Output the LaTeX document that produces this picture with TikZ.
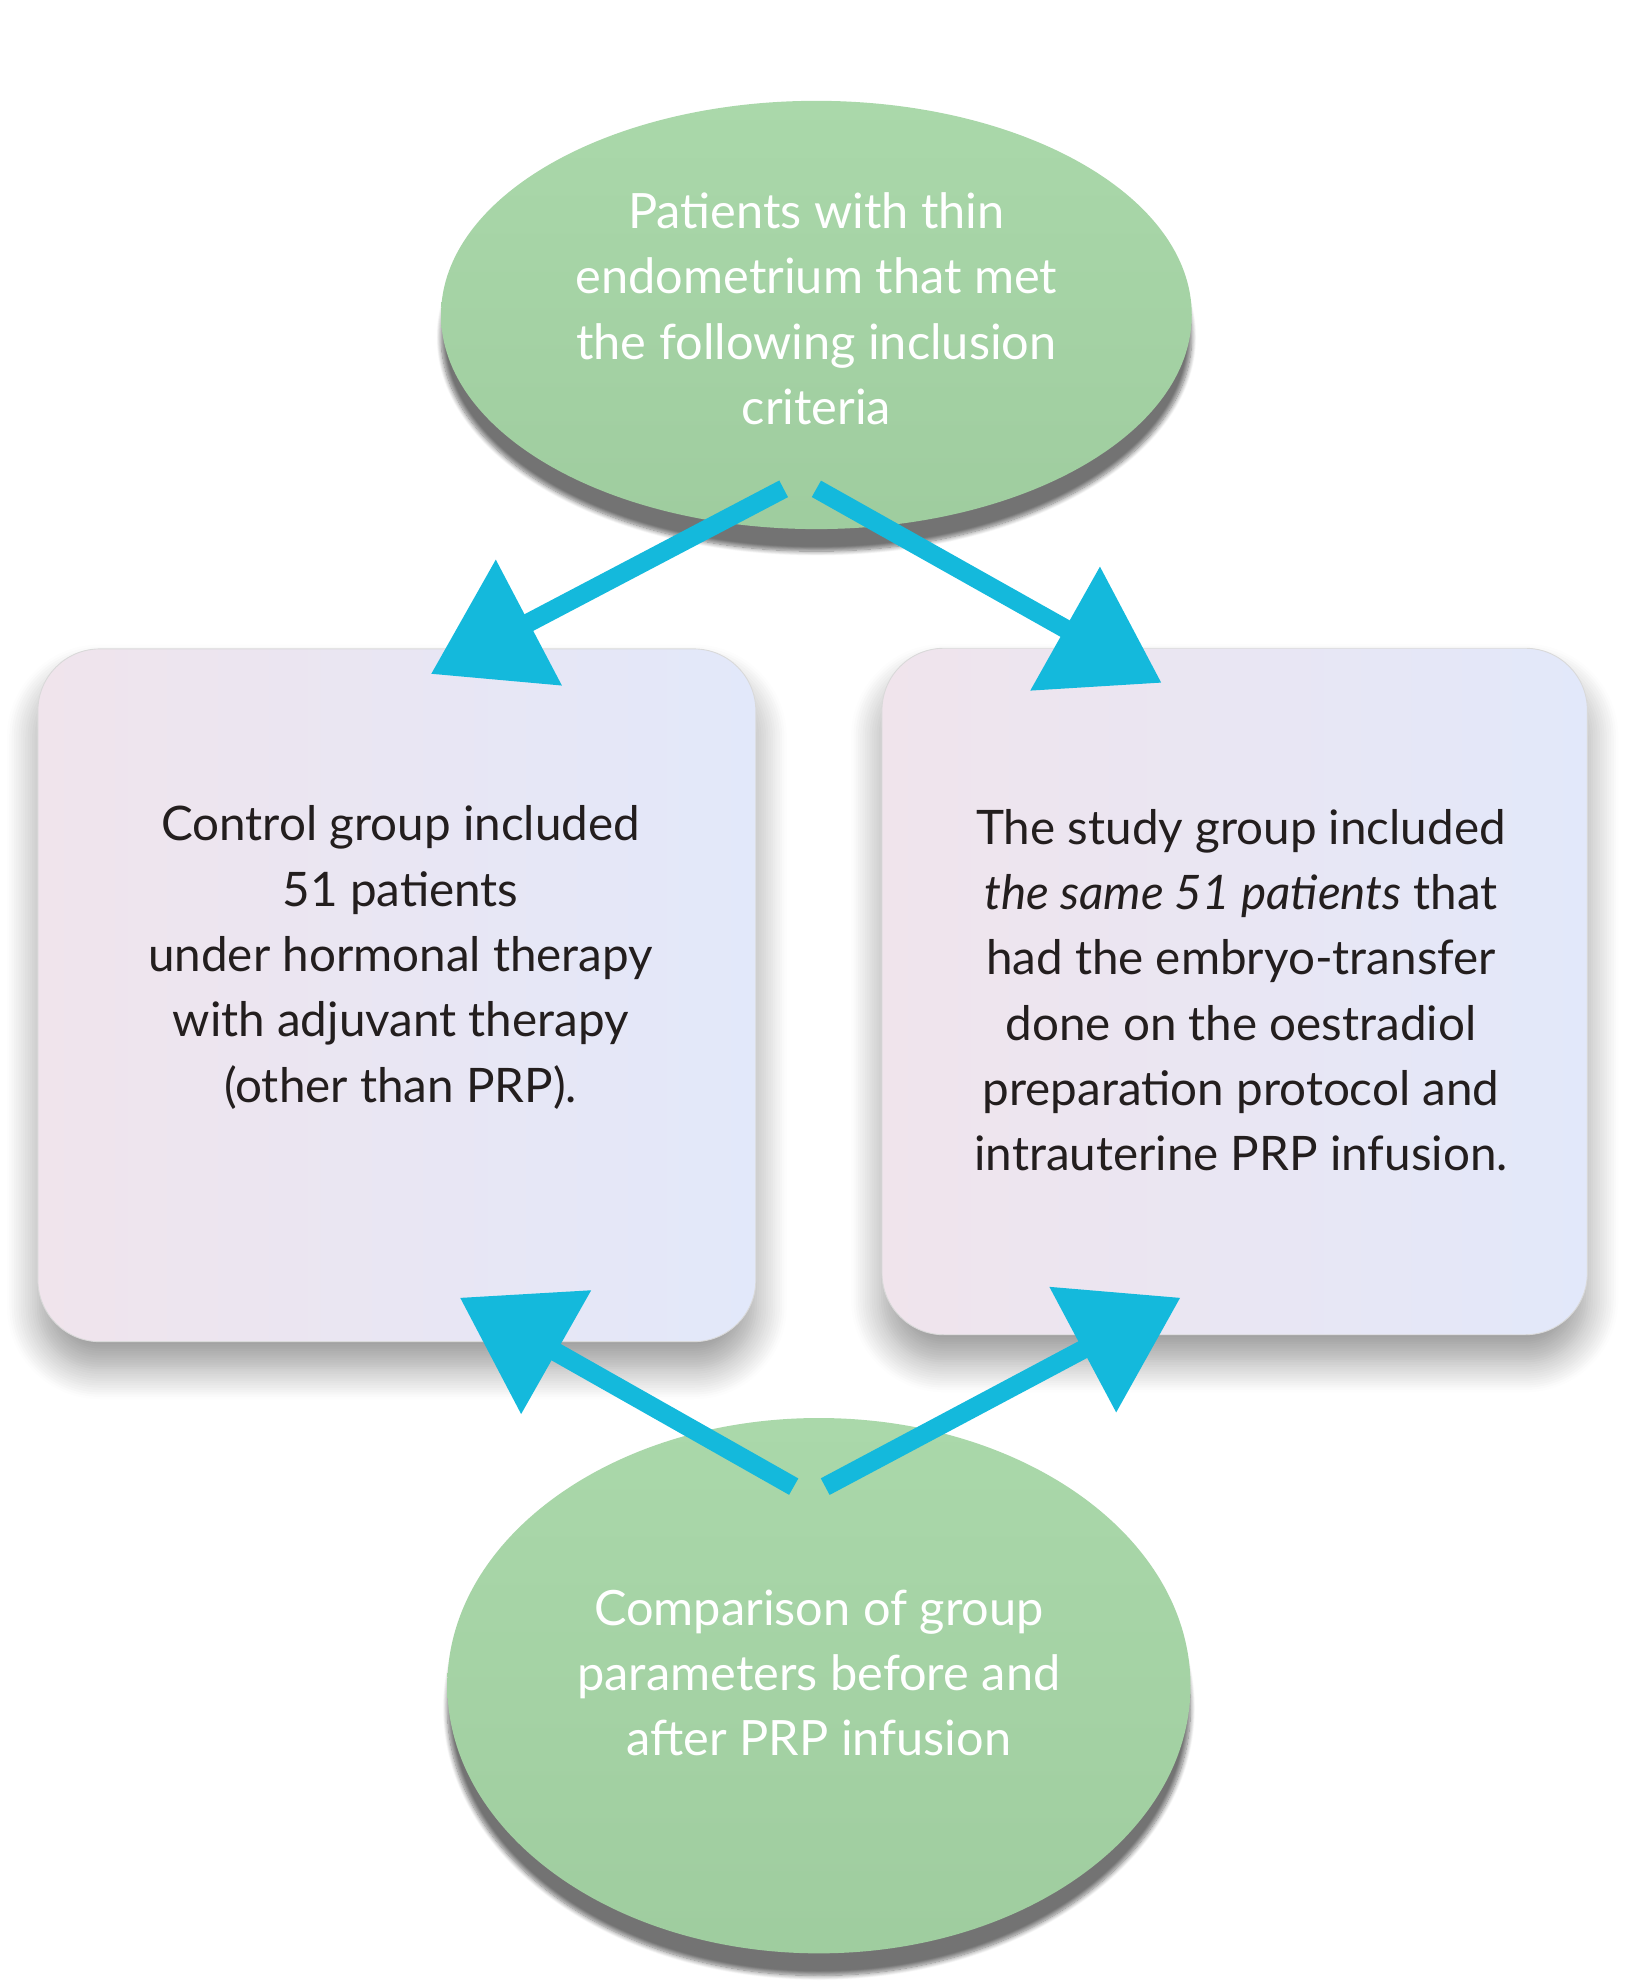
\documentclass[tikz,border=0pt]{standalone}
\usepackage{fontspec}
\setmainfont{Lato}
\usetikzlibrary{arrows.meta,shadows.blur,shapes.geometric}
\definecolor{gr}{RGB}{170,216,170}
\definecolor{grd}{RGB}{95,140,95}
\definecolor{cy}{RGB}{20,185,220}
\definecolor{bxl}{RGB}{240,228,236}
\definecolor{bxr}{RGB}{226,232,250}
\definecolor{tx}{RGB}{35,30,30}
\begin{document}
\begin{tikzpicture}[x=0.02cm,y=-0.02cm,
  ell/.style={ellipse,inner sep=0pt,draw=none,top color=gr,bottom color=gr!85!grd,
     blur shadow={shadow xshift=0pt,shadow yshift=-10pt,shadow blur steps=10,shadow opacity=55}},
  box/.style={rectangle,rounded corners=28pt,draw=gray!30,left color=bxl,right color=bxr,
     blur shadow={shadow xshift=0pt,shadow yshift=-12pt,shadow blur radius=14pt,shadow blur steps=14,shadow opacity=40}},
  etext/.style={text=white,align=center,font=\fontsize{22}{29.5}\selectfont},
  btext/.style={text=tx,align=center,font=\fontsize{21.5}{29.5}\selectfont},
  arr/.style={draw=cy,line width=8.5pt,-{Triangle[length=50pt,width=62pt]}}]
\useasboundingbox (0,0) rectangle (1300,1574);
\node[ell,minimum width=11.92cm,minimum height=6.8cm] (top) at (648,250) {};
\node[etext] (toptext) at (648,245) {Patients with thin\\endometrium that met\\the following inclusion\\criteria};
\node[ell,minimum width=11.8cm,minimum height=8.5cm] (bot) at (650,1338) {};
\node[etext] (bottext) at (650,1328) {Comparison of group\\parameters before and\\after PRP infusion};
\node[box,minimum width=11.4cm,minimum height=11cm] (lb) at (315,790) {};
\node[btext] (lt) at (318,760) {Control group included\\51 patients\\under hormonal therapy\\with adjuvant therapy\\(other than PRP).};
\node[box,minimum width=11.2cm,minimum height=10.9cm] (rb) at (980,787) {};
\node[btext] (rt) at (985,786) {The study group included\\\textit{the same 51 patients} that\\had the embryo-transfer\\done on the oestradiol\\preparation protocol and\\intrauterine PRP infusion.};
\coordinate (t1) at (622,388); \coordinate (t2) at (648,388);
\coordinate (l1) at (342,535); \coordinate (r1) at (922,542);
\coordinate (b1) at (630,1180); \coordinate (b2) at (655,1180);
\coordinate (l2) at (365,1030); \coordinate (r2) at (937,1030);
\draw[arr] (t1) -- (l1);
\draw[arr] (t2) -- (r1);
\draw[arr] (b1) -- (l2);
\draw[arr] (b2) -- (r2);
\end{tikzpicture}
\end{document}
